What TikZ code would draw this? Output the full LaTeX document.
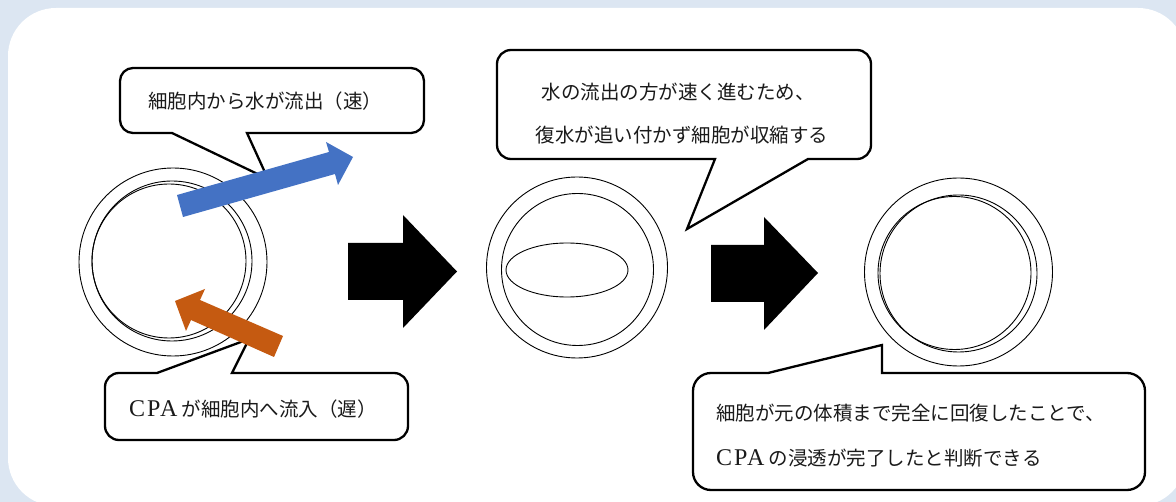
\documentclass[tikz,border=0pt]{standalone}
\usepackage{fontspec}
\usetikzlibrary{shapes.geometric}
\setmainfont{Liberation Serif}
\newfontfamily\jpfont{Noto Sans CJK JP}
\newfontfamily\cpafont{Liberation Serif}[LetterSpace=8]
\definecolor{pagebg}{HTML}{DCE6F2}
\definecolor{waterblue}{HTML}{4472C4}
\definecolor{cpaorange}{HTML}{C55A11}
\definecolor{inktext}{HTML}{1A1A1A}
\newcommand{\CPA}{{\cpafont\fontsize{24}{24}\selectfont CPA}}

\tikzset{
  ring/.style={circle, draw=black, line width=0.9pt, inner sep=0pt, outer sep=0pt},
  vacuole/.style={ellipse, draw=black, line width=0.9pt, inner sep=0pt, outer sep=0pt},
  bubble/.style={draw=black, fill=white, line width=2.3pt, line join=miter},
  bubbletext/.style={font=\jpfont\fontsize{19.5}{19.5}\selectfont, text=inktext, inner sep=0pt},
  blockarrow/.style={fill=black},
}

\begin{document}
\begin{tikzpicture}[x=1pt,y=-1pt]
\useasboundingbox (0,0) rectangle (1176,502);

% page background and white panel
\fill[pagebg] (0,0) rectangle (1176,502);
\fill[white, rounded corners=48pt] (8,8) rectangle (1186,506);

% cell 1: wall and slightly offset double membrane
\node[ring, minimum size=188pt] (c1o) at (173,262) {};
\node[ring, minimum size=154pt] (c1a) at (169,261) {};
\node[ring, minimum size=160pt] (c1b) at (172,261) {};

% cell 2: shrunken cell with flattened content
\node[ring, minimum size=181pt] (c2o) at (577,267.5) {};
\node[ring, minimum size=152pt] (c2i) at (577.5,269.5) {};
\node[vacuole, minimum width=122pt, minimum height=54pt] (vac) at (567,270) {};

% cell 3: recovered cell
\node[ring, minimum size=188pt] (c3o) at (958.5,272) {};
\node[ring, minimum size=153pt] (c3a) at (954.5,273) {};
\node[ring, minimum size=157pt] (c3b) at (958.5,273.5) {};

% block arrows between stages
\fill[blockarrow] (348,243) -- (403,243) -- (403,215) -- (457,271.5) -- (403,328) -- (403,300) -- (348,300) -- cycle;
\fill[blockarrow] (711,245) -- (764,245) -- (764,217) -- (818,273) -- (764,330) -- (764,302) -- (711,302) -- cycle;

% callout tips
\coordinate (tipA) at (268,179);
\coordinate (tipB) at (687,229);
\coordinate (tipC) at (249,339);
\coordinate (tipD) at (882,345);

% callout: water outflow
\draw[bubble] (tipA) -- (172,133) [rounded corners=13pt] -- (120,133) -- (120,68) -- (424,68) -- (424,133) [sharp corners] -- (247,133) -- cycle;
\node[bubbletext] (txtA) at (265,101) {細胞内から水が流出（速）};

% callout: shrinkage
\draw[bubble] (tipB) -- (715,159) [rounded corners=14pt] -- (497,159) -- (497,50) -- (871,50) -- (871,159) [sharp corners] -- (808,159) -- cycle;
\node[bubbletext] (txtB1) at (678,92) {水の流出の方が速く進むため、};
\node[bubbletext] (txtB2) at (682,135) {復水が追い付かず細胞が収縮する};

% callout: CPA inflow
\draw[bubble] (tipC) -- (232,373) [rounded corners=14pt] -- (408,373) -- (408,440) -- (105,440) -- (105,373) [sharp corners] -- (157,373) -- cycle;
\node[bubbletext, anchor=west] (txtC) at (129,409) {\CPA\ が細胞内へ流入（遅）};

% callout: completion
\draw[bubble] (tipD) -- (882,373) [rounded corners=18pt] -- (1145,373) -- (1145,490) -- (693,490) -- (693,373) [sharp corners] -- (768,373) -- cycle;
\node[bubbletext, anchor=west] (txtD1) at (716,413) {細胞が元の体積まで完全に回復したことで、};
\node[bubbletext, anchor=west] (txtD2) at (716,458) {\CPA\ の浸透が完了したと判断できる};

% flux arrows
\fill[waterblue] (177,195) -- (329,152) -- (326,142) -- (353,157) -- (338,185) -- (335,174) -- (183,217) -- cycle;
\fill[cpaorange] (283,336) -- (200,300) -- (205,289) -- (175,301) -- (186,331) -- (191,320) -- (274,357) -- cycle;
\end{tikzpicture}
\end{document}
